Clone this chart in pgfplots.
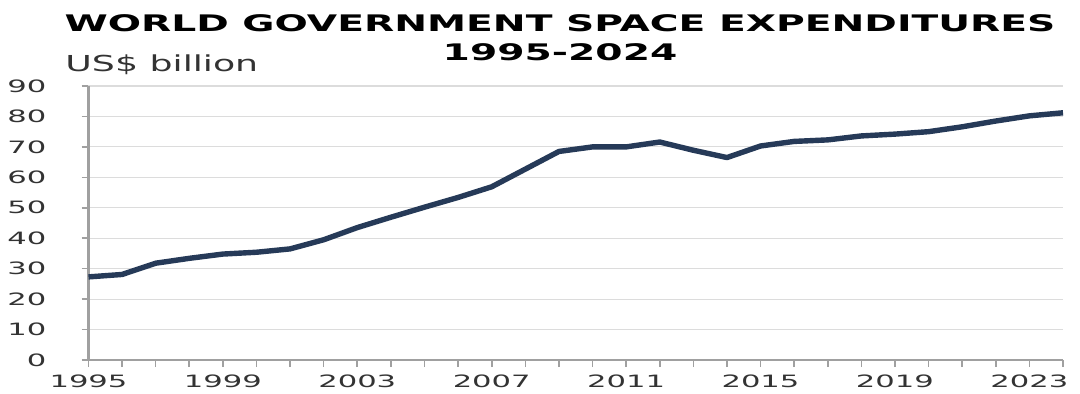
\documentclass[border=0pt]{standalone}
\usepackage{pgfplots}
\pgfplotsset{compat=1.18}
\usepackage{fontspec}
\setmainfont{DejaVu Sans}
\newfontfamily\titlefont[FakeStretch=1.72]{DejaVu Sans}
\newfontfamily\labfont[FakeStretch=1.65]{DejaVu Sans}
\newfontfamily\tickfont[FakeStretch=1.8]{DejaVu Sans}
\definecolor{navy}{RGB}{38,58,88}
\definecolor{axgray}{RGB}{160,160,160}
\definecolor{gridgray}{RGB}{220,220,220}
\pgfplotstableread{
year value
1995 27.3
1996 28.1
1997 31.8
1998 33.4
1999 34.8
2000 35.4
2001 36.5
2002 39.5
2003 43.5
2004 46.9
2005 50.2
2006 53.4
2007 56.9
2008 62.7
2009 68.5
2010 70.0
2011 70.0
2012 71.6
2013 68.9
2014 66.5
2015 70.3
2016 71.8
2017 72.3
2018 73.6
2019 74.2
2020 75.0
2021 76.6
2022 78.5
2023 80.2
2024 81.2
}\spend
\begin{document}
\begin{tikzpicture}
\path[use as bounding box] (0,0) rectangle (540pt,196.5pt);
\node[anchor=base, font=\titlefont\bfseries\fontsize{11.4}{14}\selectfont] at (280pt,181pt) {WORLD GOVERNMENT SPACE EXPENDITURES};
\node[anchor=base, font=\titlefont\bfseries\fontsize{11.4}{14}\selectfont] at (280pt,166.5pt) {1995-2024};
\node[anchor=base west, inner sep=0pt, font=\labfont\fontsize{11}{12}\selectfont, text=black!80] at (32.5pt,161pt) {US\$ billion};
\begin{axis}[
  at={(44.25pt,16.5pt)}, anchor=south west,
  scale only axis, width=487.25pt, height=137pt,
  xmin=1995, xmax=2024, ymin=0, ymax=90,
  clip=false,
  axis x line*=bottom, axis y line*=left,
  axis line style={draw=axgray, line width=1.2pt},
  xtick={1995,...,2024},
  xticklabels={1995,,,,1999,,,,2003,,,,2007,,,,2011,,,,2015,,,,2019,,,,2023,},
  ytick={0,10,...,90},
  yticklabels={0,10,20,30,40,50,60,70,80,90},
  tick align=outside,
  major tick length=3.5pt,
  tick style={draw=axgray, line width=0.8pt},
  ymajorgrids,
  grid style={draw=gridgray, line width=0.6pt},
  ticklabel style={font=\tickfont\fontsize{8.5}{10}\selectfont, text=black!80},
  xticklabel style={yshift=-0.5pt},
  yticklabel style={xshift=-14pt},
]
\addplot[navy, line width=2.7pt, line join=round] table[x=year, y=value] {\spend};
\end{axis}
\end{tikzpicture}
\end{document}
